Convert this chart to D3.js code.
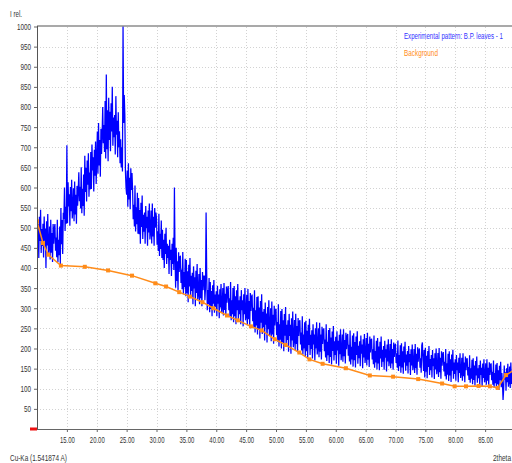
<!DOCTYPE html>
<html><head><meta charset="utf-8">
<script src="https://cdn.jsdelivr.net/npm/d3@7"></script>
<style>
html,body{margin:0;padding:0;background:#fff;overflow:hidden;}
text{font-family:"Liberation Sans",Arial,sans-serif;}
</style></head>
<body>
<svg id="c" width="512" height="463"></svg>
<script>
// Experimental pattern: start angle (2theta), step, intensities (one row per degree)
const expStart = 10.0;
const expStep = 0.1;
const expValues = [
 539,449,509,425,527,467,545,437,497,455,
 510,426,528,468,498,400,516,456,534,438,
 449,503,421,520,438,487,415,509,460,498,
 509,443,476,427,520,415,470,432,503,410,
 549,459,519,435,537,522,600,492,552,510,
 705,511,613,553,583,505,601,541,619,523,
 544,598,516,615,533,582,510,604,555,593,
 638,566,602,548,650,536,596,554,632,530,
 679,589,649,565,667,607,685,577,637,595,
 688,596,707,642,675,590,694,629,714,609,
 669,739,634,760,655,718,627,746,683,732,
 800,710,755,688,815,672,881,695,792,665,
 823,718,788,690,809,739,850,704,774,725,
 780,682,827,731,766,675,787,700,740,660,
 720,650,700,640,1000,760,830,780,640,600,
 582,642,552,660,570,624,546,648,594,636,
 593,521,557,503,605,491,551,509,587,485,
 574,484,544,460,562,502,580,472,532,490,
 538,460,554,499,527,455,543,488,560,471,
 489,543,461,560,478,527,455,549,500,538,
 524,458,491,442,535,430,485,447,518,425,
 495,420,470,400,485,435,500,410,460,425,
 455,385,470,420,445,380,460,410,475,395,
 600,433,351,450,368,417,345,439,390,428,
 429,363,396,347,440,335,390,352,423,330,
 420,337,392,315,408,354,425,326,381,343,
 388,310,404,349,377,305,393,338,410,321,
 335,385,310,400,325,370,305,390,345,380,
 380,320,350,538,390,295,345,310,375,290,
 365,298,343,280,357,311,370,289,334,303,
 342,280,356,311,334,275,347,302,360,288,
 304,350,282,363,296,336,278,354,314,345,
 355,295,325,280,365,270,320,285,350,265,
 355,280,330,260,345,295,360,270,320,285,
 330,260,345,295,320,255,335,285,350,270,
 283,333,258,348,273,318,253,338,293,328,
 334,268,301,252,345,240,295,257,328,235,
 330,247,302,225,318,264,335,236,291,253,
 298,220,314,259,287,215,303,248,320,231,
 246,300,218,317,235,284,212,306,257,295,
 299,233,266,217,310,205,260,222,293,200,
 298,215,270,193,286,232,303,204,259,221,
 270,192,286,231,259,187,275,220,292,203,
 221,271,196,286,211,256,191,276,231,266,
 270,210,240,195,280,185,235,200,265,180,
 269,194,244,174,259,209,274,184,234,199,
 245,175,260,210,235,170,250,200,265,185,
 202,250,178,264,192,235,173,254,211,245,
 250,193,222,178,260,169,217,183,246,164,
 251,179,227,160,242,194,256,170,218,184,
 229,162,243,195,219,157,234,186,248,171,
 189,235,167,248,181,221,163,239,199,230,
 236,182,209,168,245,160,204,173,232,155,
 238,171,216,153,230,184,243,162,207,176,
 218,156,232,187,210,151,223,178,236,164,
 180,226,158,239,172,212,154,230,190,221,
 224,173,198,161,232,152,194,165,219,148,
 226,163,205,146,217,175,230,154,196,167,
 206,147,219,177,198,143,210,168,223,156,
 171,211,151,223,163,199,147,215,179,207,
 212,164,188,152,220,144,184,156,208,140,
 213,153,193,137,205,165,217,145,185,157,
 194,138,206,166,186,134,198,158,210,146,
 159,199,139,211,151,187,135,203,167,195,
 200,152,176,140,208,215,172,144,196,128,
 202,142,182,126,194,154,206,134,174,146,
 184,128,196,156,176,124,188,148,200,136,
 149,189,129,201,141,177,125,193,157,185,
 191,143,167,131,199,123,163,135,187,119,
 193,133,173,117,185,145,197,125,165,137,
 173,120,184,146,165,116,177,139,188,127,
 139,177,120,188,131,165,116,180,146,173,
 176,133,154,122,183,115,151,125,172,111,
 176,122,158,108,169,133,180,115,151,126,
 159,109,170,134,152,105,163,127,173,116,
 127,163,110,173,120,152,106,166,134,159,
 163,121,142,110,170,103,139,114,160,100,
 164,111,146,97,157,121,167,104,139,114,
 72,98,158,123,141,95,151,116,162,105,
 119,155,102,165,112,144,98,158,126,151,
 140
];
// Background curve points
const bgX = [10,11.0,11.9,14.0,18.0,21.9,25.9,29.8,31.6,33.8,35.6,37.7,39.5,41.8,43.6,45.8,47.6,49.8,51.6,53.9,55.6,57.8,61.7,65.7,69.6,73.8,77.8,79.9,81.8,83.9,85.8,87.1,88.5,90];
const bgY = [516,462,433,406,403,394,381,362,354,340,329,315,300,282,270,255,245,223,209,190,173,162,151,133,130,124,113,106,106,107,106,102,134,148];
// Axis ticks
const xTicks = [15,20,25,30,35,40,45,50,55,60,65,70,75,80,85];
const yTicks = [50,100,150,200,250,300,350,400,450,500,550,600,650,700,750,800,850,900,950,1000];
const legendLabels = ["Experimental pattern: B.P. leaves - 1","Background"];

const svg = d3.select("#c");
const x = d3.scaleLinear().domain([10,90]).range([37,515]);
const y = d3.scaleLinear().domain([0,1000]).range([429,26.5]);

const expData = expValues.map((v,i)=>({x:expStart+i*expStep,y:v}));
const bgData = bgX.map((v,i)=>({x:v,y:bgY[i]}));

// narrow text helper (reference uses a condensed font)
function narrow(sel, k){
  sel.each(function(){
    const w = this.getComputedTextLength();
    d3.select(this).attr("textLength", w*k).attr("lengthAdjust","spacingAndGlyphs");
  });
}
// squeeze a free-standing text to a target width via a transform
function squeeze(t, px, py, width){
  const node = t.node();
  const w = node.getComputedTextLength();
  const k = width / w;
  t.attr("x",0).attr("y",0).attr("transform",`translate(${px},${py}) scale(${k},1)`);
}

// grid
const grid = svg.append("g");
grid.selectAll("line.h").data(yTicks.slice(0,-1)).join("line")
  .attr("x1",37).attr("x2",512).attr("y1",d=>Math.round(y(d))+0.5).attr("y2",d=>Math.round(y(d))+0.5)
  .attr("stroke","#d2d2d2").attr("stroke-dasharray","1,2");
grid.selectAll("line.v").data(xTicks).join("line")
  .attr("y1",27).attr("y2",429).attr("x1",d=>Math.round(x(d))+0.5).attr("x2",d=>Math.round(x(d))+0.5)
  .attr("stroke","#d2d2d2").attr("stroke-dasharray","1,2");

svg.append("defs").append("clipPath").attr("id","clip").append("rect")
  .attr("x",37).attr("y",26).attr("width",480).attr("height",403);

const plot = svg.append("g").attr("clip-path","url(#clip)");
plot.append("path").datum(expData)
  .attr("d",d3.line().x(d=>x(d.x)).y(d=>y(d.y)))
  .attr("fill","none").attr("stroke","#0000ff").attr("stroke-width",1.25);
plot.append("path").datum(bgData)
  .attr("d",d3.line().x(d=>x(d.x)).y(d=>y(d.y)))
  .attr("fill","none").attr("stroke","#ff8c1a").attr("stroke-width",1.5);
plot.selectAll("rect.m").data(bgData).join("rect")
  .attr("x",d=>x(d.x)-2).attr("y",d=>y(d.y)-2).attr("width",4).attr("height",4)
  .attr("fill","#ff8c1a");

// axes
const xAxis = d3.axisBottom(x).tickValues(xTicks).tickFormat(d3.format(".2f")).tickSize(3).tickPadding(5);
const gx = svg.append("g").attr("transform","translate(0,429)").call(xAxis);
gx.select(".domain").attr("stroke","#666").attr("d","M37,0.5H512");
gx.selectAll(".tick line").attr("stroke","#666");
gx.selectAll("text").attr("font-size",9).attr("fill","#333").call(narrow,0.66);

const yAxis = d3.axisLeft(y).tickValues(yTicks).tickFormat(d3.format("d")).tickSize(3).tickPadding(3);
const gy = svg.append("g").attr("transform","translate(37,0)").call(yAxis);
gy.select(".domain").attr("stroke","#555").attr("d","M0.5,26V429");
gy.selectAll(".tick line").attr("stroke","#666");
gy.selectAll("text").attr("font-size",9).attr("fill","#333").call(narrow,0.7);

svg.append("line").attr("x1",37).attr("x2",512).attr("y1",26).attr("y2",26).attr("stroke","#555").attr("stroke-width",1.2);
svg.append("rect").attr("x",30).attr("y",427.5).attr("width",7).attr("height",3).attr("fill","#ee1111");

squeeze(svg.append("text").attr("font-size",9).attr("fill","#333").text("I rel."), 10, 17, 12);
squeeze(svg.append("text").attr("font-size",9).attr("fill","#333").text("Cu-Ka (1.541874 A)"), 10, 461, 57);
squeeze(svg.append("text").attr("font-size",9).attr("fill","#333").text("2theta"), 493, 461, 18);

squeeze(svg.append("text").attr("font-size",9).attr("fill","#3333ff").text(legendLabels[0]), 404, 39, 99);
squeeze(svg.append("text").attr("font-size",9).attr("fill","#ff8c1a").text(legendLabels[1]), 404, 56, 34);
</script>
</body></html>
